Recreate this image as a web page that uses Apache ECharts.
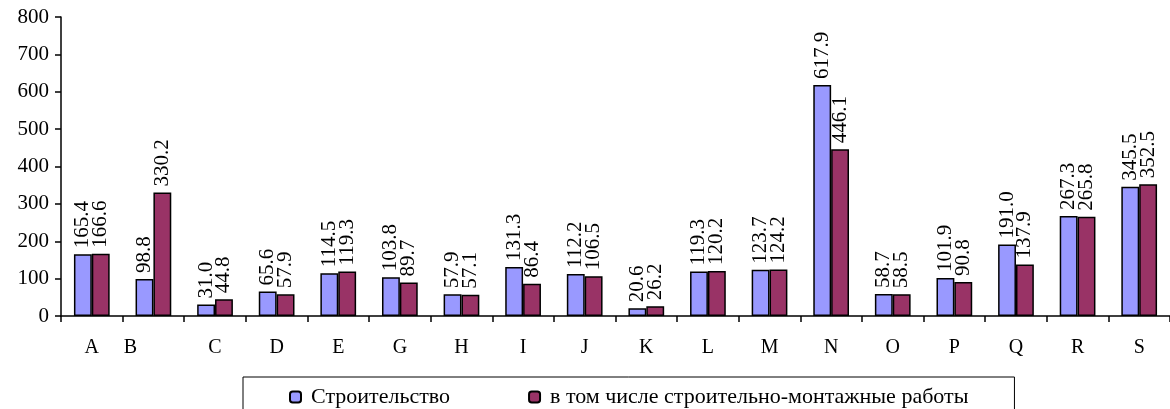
<!DOCTYPE html>
<html>
<head>
<meta charset="utf-8">
<script src="https://cdn.jsdelivr.net/npm/echarts@6/dist/echarts.min.js"></script>
<style>
    html, body { margin: 0; padding: 0; background: #fff; }
    #chart { width: 1170px; height: 409px; }
</style>
</head>
<body>
<div id="chart"></div>
<script>
// категории и значения
var categories = ['A', 'B', 'C', 'D', 'E', 'G', 'H', 'I', 'J', 'K', 'L', 'M', 'N', 'O', 'P', 'Q', 'R', 'S'];
var stroit = [165.4, 98.8, 31.0, 65.6, 114.5, 103.8, 57.9, 131.3, 112.2, 20.6, 119.3, 123.7, 617.9, 58.7, 101.9, 191.0, 267.3, 345.5];
var smr = [166.6, 330.2, 44.8, 57.9, 119.3, 89.7, 57.1, 86.4, 106.5, 26.2, 120.2, 124.2, 446.1, 58.5, 90.8, 137.9, 265.8, 352.5];
var yTicks = [0, 100, 200, 300, 400, 500, 600, 700, 800];
var names = ['Строительство', 'в том числе строительно-монтажные работы'];

var font = 'Liberation Serif';
var chart = echarts.init(document.getElementById('chart'));

function barLabel() {
    return {
        show: true,
        position: 'top',
        rotate: 90,
        align: 'left',
        verticalAlign: 'middle',
        distance: 6,
        color: '#000',
        fontFamily: font,
        fontSize: 21,
        formatter: function (p) { return p.value.toFixed(1); }
    };
}

var option = {
    animation: false,
    grid: { left: 61, top: 17, bottom: 93, right: -6 },
    legend: {
        left: 243,
        top: 377,
        padding: [9, 46, 12, 46],
        borderColor: '#000',
        borderWidth: 1,
        itemWidth: 11,
        itemHeight: 11,
        itemGap: 78,
        textStyle: { fontFamily: font, fontSize: 22, color: '#000', padding: [0, 0, 0, 5] },
        data: names
    },
    xAxis: {
        type: 'category',
        data: categories,
        axisLine: { lineStyle: { color: '#000', width: 1.5 } },
        axisTick: { show: true, length: 6, lineStyle: { color: '#000', width: 1.5 } },
        axisLabel: {
            margin: 22,
            color: '#000',
            fontFamily: font,
            fontSize: 20,
            formatter: function (v) { return v === 'B' ? '{b|B}' : v; },
            rich: { b: { padding: [0, 46, 0, 0], fontFamily: font, fontSize: 20, color: '#000' } }
        }
    },
    yAxis: {
        type: 'value',
        min: yTicks[0],
        max: yTicks[yTicks.length - 1],
        interval: 100,
        axisLine: { show: true, lineStyle: { color: '#000', width: 1.5 } },
        axisTick: { show: true, length: 6, lineStyle: { color: '#000', width: 1.5 } },
        splitLine: { show: false },
        axisLabel: { margin: 12, color: '#000', fontFamily: font, fontSize: 21 }
    },
    series: [
        {
            name: names[0],
            type: 'bar',
            data: stroit,
            barGap: '0%',
            barCategoryGap: '42%',
            itemStyle: { color: '#9999FF', borderColor: '#000', borderWidth: 1.5 },
            label: barLabel()
        },
        {
            name: names[1],
            type: 'bar',
            data: smr,
            itemStyle: { color: '#993366', borderColor: '#000', borderWidth: 1.5 },
            label: barLabel()
        }
    ]
};

chart.setOption(option);
</script>
</body>
</html>
